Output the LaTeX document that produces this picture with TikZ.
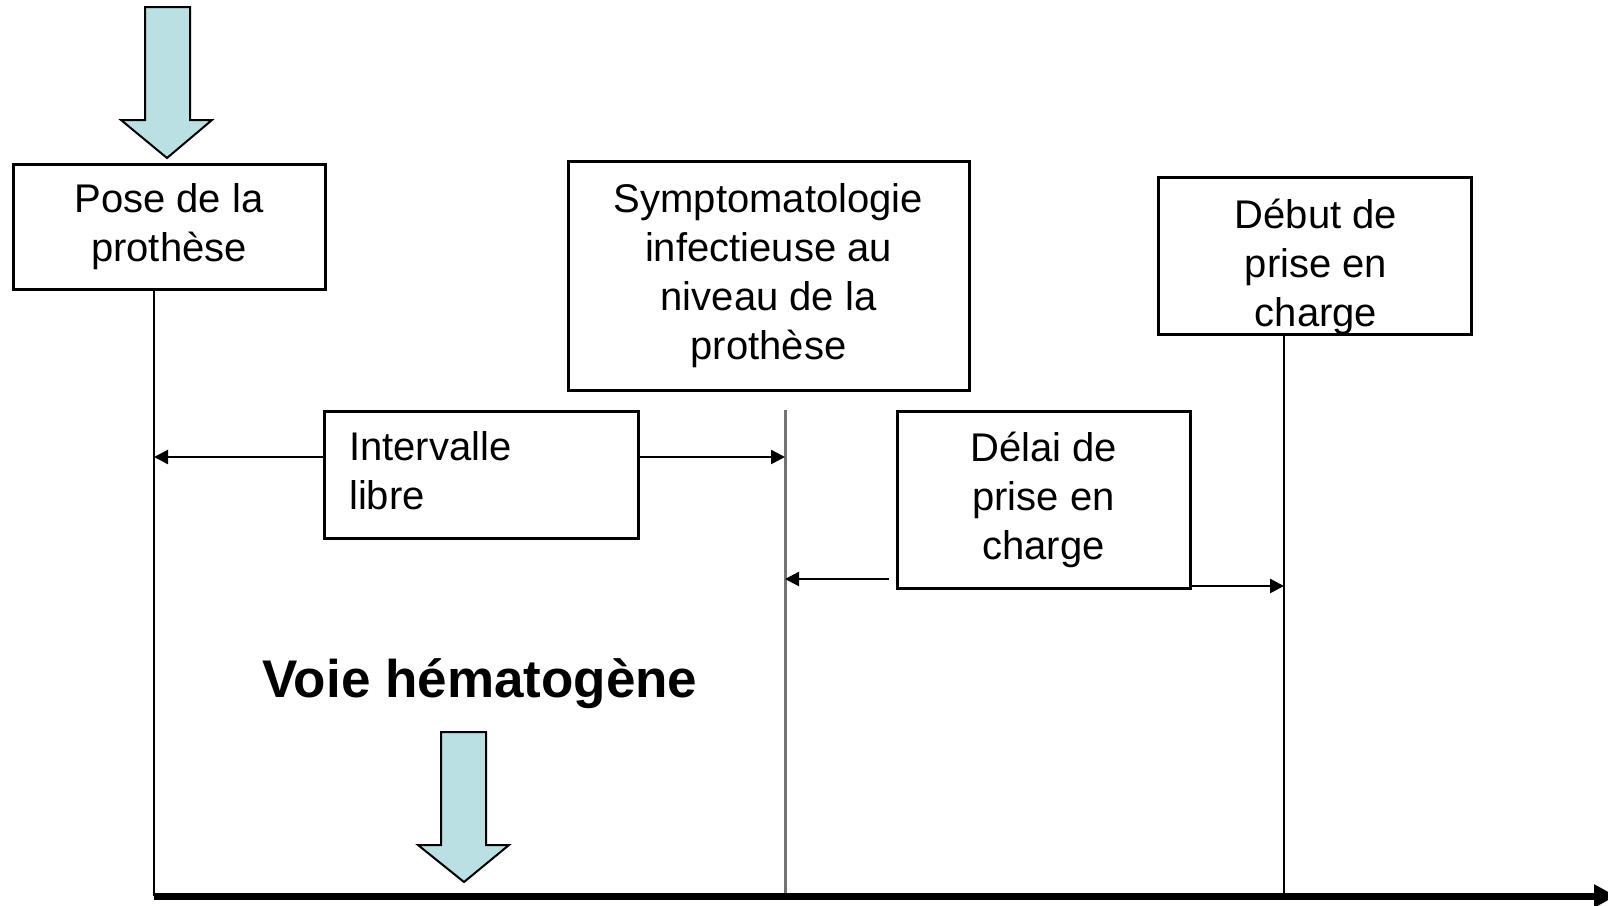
\documentclass[tikz,border=0pt]{standalone}
\usepackage{fontspec}
\setmainfont{Liberation Sans}
\usetikzlibrary{arrows.meta}
\definecolor{blockfill}{RGB}{187,224,228}
\begin{document}
\begin{tikzpicture}[x=1pt,y=-1pt,
  boxtxt/.style={font=\fontsize{40}{49}\selectfont},
  box/.style={draw=black, line width=3pt, inner sep=0pt, boxtxt, align=center},
  conn/.style={line width=2.4pt, -{Triangle[length=14pt,width=14pt]}},
  vline/.style={line width=2pt},
  blockarrow/.style={draw=black, line width=2pt, fill=blockfill, line join=miter},
]
\useasboundingbox (0,0) rectangle (1608,905);
\fill[white] (0,0) rectangle (1608,905);

% boxes
\node[box, minimum width=312pt, minimum height=125pt] (pose) at (169,226.5) {Pose de la\\prothèse};
\node[box, minimum width=401pt, minimum height=229pt] (symp) at (768.5,275.5) {Symptomatologie\\infectieuse au\\niveau de la\\prothèse};
\node[box, minimum width=313pt, minimum height=157pt] (debut) at (1314.5,255.5) {};
\node[boxtxt, align=center, inner sep=0pt] (debutT) at (1316,267) {Début de\\prise en\\charge};
\node[box, minimum width=314pt, minimum height=127pt] (intv) at (481,474.5) {};
\node[boxtxt, align=left, anchor=west, inner sep=0pt] (intvT) at (349,471) {Intervalle\\libre};
\node[box, minimum width=293pt, minimum height=177pt] (delai) at (1043.5,499.5) {Délai de\\prise en\\charge};

% coordinates
\coordinate (axL) at (154,896);
\coordinate (axR) at (1616,896);
\coordinate (gTop) at (785,410);
\coordinate (gBot) at (785,896);
\coordinate (dBot) at (1284,896);
\coordinate (il) at (intv.west |- 0,457);
\coordinate (ir) at (intv.east |- 0,457);
\coordinate (dl) at (889,579);
\coordinate (dr) at (delai.east |- 0,586);

% vertical lines
\draw[vline] (pose.south -| axL) -- (axL);
\draw[vline] (debut.south -| dBot) -- (dBot);
\draw[line width=3pt, draw=black!55] (gTop) -- (gBot);

% axis
\draw[line width=7pt, -{Triangle[length=22pt,width=22pt]}] (axL) -- (axR);

% connectors
\draw[conn] (il) -- (il -| axL);
\draw[conn] (ir) -- (ir -| gBot);
\draw[conn] (dl) -- (dl -| gBot);
\draw[conn] (dr) -- (dr -| dBot);

% block arrows
\draw[blockarrow] (145,7) -- (190,7) -- (190,120) -- (212,120) -- (167,158) -- (121,120) -- (145,120) -- cycle;
\draw[blockarrow] (441,732) -- (486,732) -- (486,845) -- (509,845) -- (464,882) -- (418,845) -- (441,845) -- cycle;

% label
\node[font=\bfseries\fontsize{53}{60}\selectfont, anchor=base, inner sep=0pt] (voie) at (480,697) {Voie hématogène};
\end{tikzpicture}
\end{document}
